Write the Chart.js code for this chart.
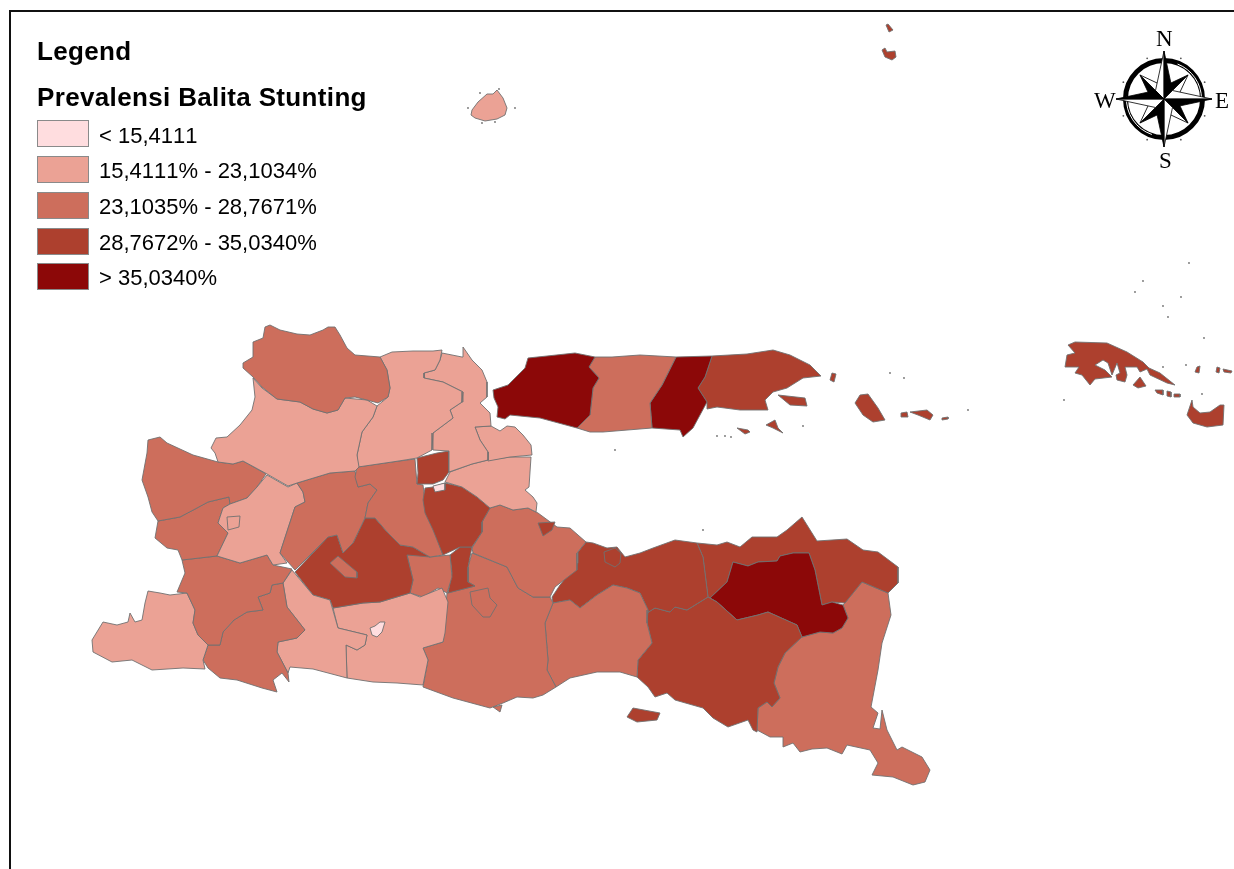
<!DOCTYPE html>
<html>
<head>
<meta charset="utf-8">
<title>Prevalensi Balita Stunting</title>
<script src="https://cdn.jsdelivr.net/npm/chart.js@4"></script>
<style>
  html, body { margin: 0; padding: 0; background: #fff; }
  #wrap { position: relative; width: 1234px; height: 869px; overflow: hidden; }
  #frame { position: absolute; left: 9px; top: 10px; width: 1240px; height: 900px; border: 2px solid #111; }
  #map { position: absolute; left: 0; top: 0; }
  .lg { position: absolute; font-family: "Liberation Sans", Arial, sans-serif; color: #000; white-space: nowrap; line-height: 1; font-kerning: none; }
  .head { font-weight: bold; font-size: 26px; letter-spacing: 0.35px; left: 37px; }
  .swatch { position: absolute; left: 37px; width: 50px; height: 25px; border: 1px solid #8a8a8a; }
  .item { font-size: 22px; left: 99px; }
  .cp { position: absolute; font-family: "Liberation Serif", serif; font-size: 23px; line-height: 1; color: #000; }
</style>
</head>
<body>
<div id="wrap">
  <div id="frame"></div>
  <canvas id="map" width="1234" height="869"></canvas>
  <div id="legend"></div>
</div>
<script>
// class breaks of the map
const classLabels = ['< 15,4111', '15,4111% - 23,1034%', '23,1035% - 28,7671%', '28,7672% - 35,0340%', '> 35,0340%'];
const classColors = ['#FFDDDF', '#EBA295', '#CD6E5C', '#AD402E', '#8C0808'];
const outlineColor = '#707070';

// outlines are in map units: [x, y] with y running down
const tuban = [[243,363],[253,357],[253,342],[263,338],[265,327],[270,325],[280,330],[297,334],[310,335],[323,330],[328,327],[335,327],[340,335],[347,348],[355,355],[380,357],[387,370],[390,388],[388,397],[378,403],[367,400],[355,397],[345,398],[338,410],[327,413],[313,409],[300,402],[277,399],[262,387],[253,377],[243,368]];
const bojonegoro = [[253,378],[262,388],[277,399],[300,402],[313,409],[327,413],[338,410],[345,398],[367,400],[377,406],[373,417],[362,432],[357,455],[359,467],[355,471],[330,473],[297,483],[288,486],[267,474],[243,461],[233,464],[218,462],[215,453],[211,448],[216,438],[227,437],[240,425],[252,410],[255,397]];
const lamongan = [[380,357],[392,352],[413,351],[433,351],[442,350],[440,360],[435,370],[424,373],[424,378],[443,382],[463,392],[462,402],[450,410],[453,418],[433,433],[432,450],[417,458],[405,460],[392,462],[358,467],[357,455],[362,432],[373,417],[377,406],[388,397],[390,388],[387,370]];
const gresik = [[442,353],[462,357],[463,347],[472,360],[482,370],[487,382],[487,397],[480,403],[490,413],[491,426],[475,427],[480,440],[488,452],[488,460],[472,464],[449,472],[449,451],[433,450],[433,433],[453,418],[450,410],[462,402],[463,392],[443,382],[424,378],[424,373],[435,370],[440,360]];
const surabaya = [[475,427],[491,426],[500,431],[507,426],[515,427],[523,435],[531,445],[532,455],[510,457],[488,461],[488,452],[480,440]];
const sidoarjo = [[450,472],[472,464],[488,460],[510,457],[531,457],[529,487],[525,490],[533,497],[537,503],[536,512],[528,508],[513,510],[500,505],[490,508],[477,497],[462,487],[445,482]];
const mojokertoUtara = [[417,458],[437,453],[449,451],[449,472],[443,480],[433,484],[417,484],[418,473]];
const mojokerto = [[425,488],[433,487],[445,483],[462,487],[477,497],[490,508],[482,522],[482,532],[472,547],[460,547],[443,555],[433,530],[425,513],[423,500]];
const kotaMojokerto = [[433,486],[445,483],[445,490],[435,492]];
const jombang = [[357,467],[392,462],[415,459],[417,484],[423,485],[427,515],[435,533],[443,555],[430,557],[413,547],[400,545],[388,533],[375,518],[365,518],[368,503],[377,490],[370,484],[358,487],[355,477]];
const nganjuk = [[297,483],[330,473],[355,471],[358,487],[370,484],[377,490],[368,503],[365,518],[353,543],[343,553],[337,535],[328,537],[295,570],[280,553],[295,507],[305,502],[303,492]];
const madiun = [[267,475],[288,487],[297,483],[303,492],[305,502],[295,507],[280,553],[287,563],[273,565],[267,555],[240,563],[217,556],[228,533],[218,523],[223,508],[230,504],[247,498],[257,487]];
const kotaMadiun = [[227,517],[240,516],[239,527],[228,530]];
const ngawi = [[148,440],[160,437],[167,443],[193,455],[218,462],[233,464],[243,461],[266,474],[257,487],[247,498],[230,504],[229,497],[208,502],[197,508],[180,517],[158,521],[152,512],[148,497],[142,480],[147,453]];
const magetan = [[158,521],[180,517],[197,508],[208,502],[229,497],[230,504],[223,508],[218,523],[228,533],[217,556],[182,560],[178,550],[167,548],[155,538]];
const ponorogo = [[182,560],[217,556],[240,563],[267,555],[273,565],[292,569],[283,583],[272,585],[270,593],[258,597],[263,610],[247,612],[234,620],[223,632],[220,645],[208,645],[198,635],[193,623],[195,610],[187,593],[177,592],[185,573]];
const pacitan = [[103,622],[117,625],[128,622],[130,613],[135,622],[142,620],[145,603],[148,591],[160,593],[170,595],[187,593],[195,610],[193,623],[198,635],[208,645],[203,660],[205,669],[183,668],[152,670],[132,660],[112,662],[93,652],[92,640]];
const trenggalek = [[220,645],[223,632],[234,620],[247,612],[263,610],[258,597],[270,593],[272,585],[283,583],[287,607],[305,630],[297,638],[278,642],[277,652],[288,673],[289,682],[282,673],[273,680],[277,692],[262,688],[237,680],[220,678],[208,668],[203,660],[208,645]];
const tulungagung = [[283,583],[292,570],[313,595],[330,600],[338,628],[367,635],[365,645],[357,650],[346,645],[347,678],[313,669],[290,667],[288,673],[277,652],[278,642],[297,638],[305,630],[287,607]];
const kediri = [[295,572],[328,537],[337,535],[343,553],[353,543],[365,518],[375,518],[388,533],[400,545],[413,547],[430,557],[407,555],[413,580],[410,593],[380,602],[363,603],[333,608],[330,600],[313,595]];
const kotaKediri = [[330,563],[338,556],[357,572],[357,578],[345,577]];
const blitar = [[333,608],[363,603],[380,602],[410,593],[420,597],[442,588],[448,602],[445,633],[443,642],[423,648],[428,660],[423,685],[397,683],[373,682],[347,678],[346,645],[357,650],[365,645],[367,635],[338,628]];
const kotaBlitar = [[370,628],[375,626],[380,622],[385,622],[382,632],[377,637],[372,635]];
const kotaBatu = [[407,555],[418,553],[430,557],[450,555],[452,577],[447,593],[438,588],[423,597],[410,593],[413,580]];
const pandaan = [[450,555],[460,547],[472,547],[468,567],[468,582],[475,586],[448,593],[452,573]];
const pasuruan = [[472,548],[482,532],[482,522],[490,508],[500,505],[513,510],[528,508],[538,513],[557,527],[570,528],[586,542],[577,553],[577,570],[555,587],[550,597],[533,597],[518,588],[507,567],[473,553]];
const kotaPasuruan = [[538,523],[555,522],[552,530],[543,536]];
const malang = [[472,553],[507,567],[518,588],[533,597],[550,597],[553,603],[545,623],[548,660],[547,670],[556,687],[543,695],[533,698],[517,697],[503,703],[490,708],[453,698],[423,687],[428,660],[423,648],[443,642],[447,593],[475,586],[468,582],[468,567]];
const kotaMalang = [[470,592],[488,588],[490,598],[497,605],[490,617],[483,617],[472,605]];
const lumajang = [[553,603],[570,600],[580,608],[597,595],[613,585],[627,588],[640,593],[648,610],[647,623],[652,643],[638,660],[637,677],[620,672],[597,672],[570,678],[556,687],[547,670],[548,660],[545,623]];
const probolinggo = [[552,597],[560,585],[578,563],[578,552],[586,542],[593,543],[607,548],[617,547],[625,557],[640,553],[653,548],[675,540],[697,543],[703,557],[708,597],[687,610],[675,607],[670,612],[655,608],[647,613],[648,610],[640,593],[627,588],[613,585],[597,595],[580,608],[570,600],[553,603]];
const kotaProbolinggo = [[604,552],[615,548],[621,553],[620,563],[615,567],[605,562]];
const jember = [[647,613],[655,608],[670,612],[675,607],[687,610],[708,597],[717,602],[737,620],[758,615],[768,612],[797,625],[802,637],[785,653],[778,667],[774,683],[780,698],[772,707],[767,702],[758,708],[757,732],[753,730],[748,720],[728,727],[713,718],[703,708],[675,700],[667,693],[655,697],[648,687],[637,677],[638,660],[652,643],[647,623]];
const bondowoso = [[710,598],[727,582],[733,562],[748,566],[758,562],[777,561],[780,556],[793,553],[809,553],[815,570],[822,605],[832,602],[843,605],[848,618],[842,628],[833,633],[820,632],[802,637],[797,625],[768,612],[758,615],[737,620],[717,602]];
const situbondo = [[697,543],[717,545],[727,542],[740,547],[752,537],[777,537],[787,530],[802,517],[817,541],[847,539],[863,550],[878,552],[898,567],[898,583],[888,593],[862,582],[845,603],[832,602],[822,605],[815,570],[809,553],[793,553],[780,556],[777,561],[758,562],[748,566],[733,562],[727,582],[710,598],[708,597],[703,557]];
const banyuwangi = [[802,637],[820,632],[833,633],[842,628],[848,618],[843,605],[862,582],[888,593],[891,615],[882,643],[878,670],[871,707],[878,713],[873,728],[880,729],[882,710],[887,730],[897,750],[902,747],[922,757],[930,770],[925,782],[913,785],[893,777],[872,775],[878,763],[870,750],[847,745],[842,754],[827,748],[812,749],[800,752],[793,743],[783,747],[783,737],[770,737],[757,730],[758,708],[767,702],[772,707],[780,698],[774,683],[778,667],[785,653]];
const bangkalan = [[493,390],[508,385],[525,368],[528,358],[547,356],[575,353],[595,357],[589,367],[599,378],[593,388],[590,415],[577,428],[540,418],[510,415],[505,419],[497,417],[498,407],[494,398]];
const sampang = [[595,357],[612,357],[640,355],[676,357],[662,385],[650,403],[652,428],[603,432],[590,432],[577,428],[590,415],[593,388],[599,378],[589,367]];
const pamekasan = [[676,357],[712,356],[705,377],[698,388],[707,402],[693,428],[683,437],[680,430],[652,428],[650,403],[662,385]];
const sumenep = [[712,356],[747,354],[773,350],[790,355],[810,365],[821,376],[803,378],[787,388],[773,392],[765,400],[768,410],[740,410],[717,407],[707,409],[707,402],[698,388],[705,377]];
const bawean = [[472,110],[478,102],[487,94],[493,94],[497,90],[503,98],[507,108],[505,115],[497,119],[485,121],[475,118],[471,115]];
const sempu = [[493,707],[502,705],[500,712]];

// smaller islands of Sumenep, Jember and the far east
const nusaBarung = [[627,717],[633,708],[660,713],[657,720],[637,722]];
const topIsletA = [[886,25],[888,24],[893,30],[889,32]];
const topIsletB = [[882,50],[885,48],[887,52],[895,51],[896,57],[892,60],[885,57]];
const poteran = [[778,395],[805,398],[807,406],[790,405]];
const giliyang = [[830,380],[832,373],[836,374],[834,382]];
const talango = [[766,425],[775,420],[778,428],[783,433],[773,428]];
const giliGenting = [[737,428],[748,430],[750,432],[745,434]];
const sapudi = [[855,403],[860,395],[868,394],[878,408],[885,420],[873,422],[863,415]];
const raasA = [[901,413],[907,412],[908,417],[902,417]];
const raasB = [[910,412],[927,410],[933,415],[930,420],[918,415]];
const raasC = [[942,418],[948,417],[948,419],[942,420]];
const kangean = [[1068,345],[1075,342],[1107,343],[1127,352],[1143,362],[1149,368],[1160,373],[1175,385],[1167,383],[1150,375],[1147,369],[1140,372],[1137,367],[1125,367],[1127,375],[1125,382],[1117,380],[1116,375],[1120,373],[1117,363],[1112,375],[1108,363],[1103,360],[1095,365],[1105,370],[1112,377],[1095,379],[1090,385],[1082,375],[1075,373],[1079,367],[1065,367],[1067,355],[1075,353]];
const kangeanB = [[1133,385],[1140,377],[1146,386],[1138,388]];
const kangeanC = [[1155,390],[1163,390],[1163,395],[1157,393]];
const kangeanD = [[1167,391],[1171,392],[1171,397],[1167,396]];
const kangeanE = [[1174,394],[1180,394],[1180,397],[1174,397]];
const sepanjang = [[1187,415],[1192,400],[1193,407],[1200,413],[1210,412],[1220,405],[1224,405],[1223,425],[1207,427],[1193,423]];
const kangeanF = [[1197,367],[1200,366],[1199,373],[1195,372]];
const kangeanG = [[1217,367],[1220,368],[1219,373],[1216,372]];
const kangeanH = [[1223,369],[1232,371],[1231,373],[1224,372]];
const tinyIslets = [[968,410],[890,373],[904,378],[1064,400],[1189,263],[1143,281],[1135,292],[1181,297],[1163,306],[1168,317],[1163,367],[1186,365],[1204,338],[1202,394],[717,436],[725,436],[731,437],[803,426],[615,450],[703,530],[468,108],[480,93],[515,108],[482,123],[495,122],[499,89]];

// holes go first so they end up drawn on top
const holes = [[kotaMojokerto, 0], [kotaBlitar, 0], [kotaMadiun, 1], [kotaKediri, 2], [kotaMalang, 2], [kotaProbolinggo, 3], [kotaPasuruan, 3]];
const regions = [
  [tuban, 2], [bojonegoro, 1], [lamongan, 1], [gresik, 1], [surabaya, 1], [sidoarjo, 1], [mojokertoUtara, 3], [mojokerto, 3],
  [jombang, 2], [nganjuk, 2], [madiun, 1], [ngawi, 2], [magetan, 2], [ponorogo, 2], [pacitan, 1], [trenggalek, 2],
  [tulungagung, 1], [kediri, 3], [blitar, 1], [kotaBatu, 2], [pandaan, 3], [pasuruan, 2], [malang, 2], [lumajang, 2],
  [probolinggo, 3], [jember, 3], [bondowoso, 4], [situbondo, 3], [banyuwangi, 2], [bangkalan, 4], [sampang, 2], [pamekasan, 4],
  [sumenep, 3], [bawean, 1], [sempu, 2], [nusaBarung, 3], [topIsletA, 3], [topIsletB, 3], [poteran, 3], [giliyang, 3],
  [talango, 3], [giliGenting, 3], [sapudi, 3], [raasA, 3], [raasB, 3], [raasC, 3], [kangean, 3], [kangeanB, 3], [kangeanC, 3],
  [kangeanD, 3], [kangeanE, 3], [sepanjang, 3], [kangeanF, 3], [kangeanG, 3], [kangeanH, 3]
];

const toPoints = (outline) => outline.concat([outline[0]]).map(p => ({ x: p[0], y: p[1] }));

const datasets = holes.concat(regions).map(([outline, cls]) => ({
    data: toPoints(outline),
    showLine: true,
    fill: 'shape',
    backgroundColor: classColors[cls],
    borderColor: outlineColor,
    borderWidth: 0.9,
    pointRadius: 0,
    tension: 0
}));
datasets.push({
    data: tinyIslets.map(p => ({ x: p[0], y: p[1] })),
    showLine: false,
    pointRadius: 0.9,
    pointBackgroundColor: outlineColor,
    pointBorderWidth: 0
});

// compass rose in the top right corner
const compassPlugin = {
    id: 'compass',
    afterDraw(chart) {
        const ctx = chart.ctx;
        const cx = chart.scales.x.getPixelForValue(1164);
        const cy = chart.scales.y.getPixelForValue(99);
        ctx.save();
        ctx.translate(cx, cy);
        ctx.strokeStyle = '#000';
        ctx.lineWidth = 5;
        ctx.beginPath(); ctx.arc(0, 0, 38.5, 0, Math.PI * 2); ctx.stroke();
        ctx.strokeStyle = '#fff';
        ctx.lineWidth = 1;
        ctx.beginPath(); ctx.arc(0, 0, 37.5, -1.2, 0); ctx.stroke();
        ctx.beginPath(); ctx.arc(0, 0, 37.5, 1.9, 3.2); ctx.stroke();
        ctx.fillStyle = '#555';
        for (let i = 0; i < 8; i++) {
            const a = Math.PI / 8 + i * Math.PI / 4;
            ctx.beginPath(); ctx.arc(Math.cos(a) * 44, Math.sin(a) * 44, 0.9, 0, Math.PI * 2); ctx.fill();
        }
        // blackSide: -1 paints the counter-clockwise half of each spike, 1 the clockwise half
        const star = (start, len, waist, blackSide) => {
            for (let i = 0; i < 4; i++) {
                ctx.save();
                ctx.rotate(start + i * Math.PI / 2);
                [-1, 1].forEach(side => {
                    ctx.beginPath(); ctx.moveTo(0, 0); ctx.lineTo(side * waist, -waist); ctx.lineTo(0, -len); ctx.closePath();
                    ctx.fillStyle = side === blackSide ? '#000' : '#fff';
                    ctx.fill();
                    ctx.strokeStyle = '#000'; ctx.lineWidth = 0.8; ctx.stroke();
                });
                ctx.restore();
            }
        };
        star(Math.PI / 4, 34, 9, -1);
        star(0, 48, 8.5, 1);
        ctx.restore();
    }
};

new Chart(document.getElementById('map').getContext('2d'), {
    type: 'scatter',
    data: { datasets: datasets },
    options: {
        responsive: false,
        animation: false,
        layout: { padding: 0, autoPadding: false },
        plugins: { legend: { display: false }, tooltip: { enabled: false } },
        scales: {
            x: { type: 'linear', display: false, min: 0, max: 1234 },
            y: { type: 'linear', display: false, min: 0, max: 869, reverse: true }
        }
    },
    plugins: [compassPlugin]
});

// legend and compass letters as plain text
const legendBox = document.getElementById('legend');
function addText(cls, text, left, top) {
    const el = document.createElement('div');
    el.className = cls;
    el.textContent = text;
    if (left !== null) el.style.left = left + 'px';
    el.style.top = top + 'px';
    legendBox.appendChild(el);
}
addText('lg head', 'Legend', null, 38);
addText('lg head', 'Prevalensi Balita Stunting', null, 84);
const swatchTops = [120, 156, 192, 228, 263];
const labelTops = [125, 160, 196, 232, 267];
classLabels.forEach((label, i) => {
    const sw = document.createElement('div');
    sw.className = 'swatch';
    sw.style.top = swatchTops[i] + 'px';
    sw.style.background = classColors[i];
    legendBox.appendChild(sw);
    addText('lg item', label, null, labelTops[i]);
});
addText('cp', 'N', 1156, 27);
addText('cp', 'W', 1094, 89);
addText('cp', 'E', 1215, 89);
addText('cp', 'S', 1159, 149);
</script>
</body>
</html>
